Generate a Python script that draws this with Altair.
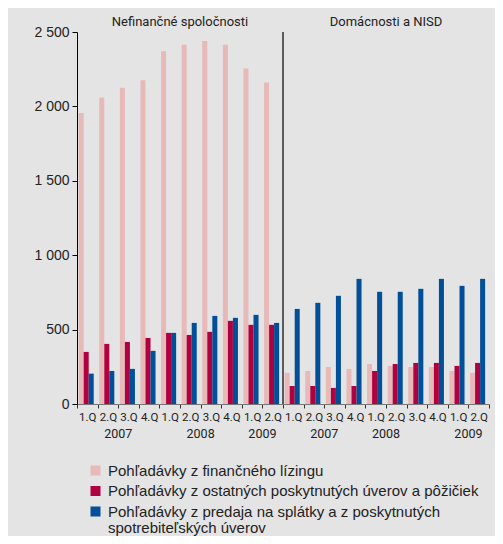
import altair as alt
import pandas as pd

panel_names = ["Nefinančné spoločnosti", "Domácnosti a NISD"]
years = ["2007", "2007", "2007", "2007", "2008", "2008", "2008", "2008", "2009", "2009"]
quarters = ["1", "2", "3", "4", "1", "2", "3", "4", "1", "2"]
series = [
    "Pohľadávky z finančného lízingu",
    "Pohľadávky z ostatných poskytnutých úverov a pôžičiek",
    "Pohľadávky z predaja na splátky a z poskytnutých spotrebiteľských úverov",
]
colors = ["#e8b9b9", "#b0003f", "#004f98"]

nef_leasing = [1955, 2060, 2125, 2175, 2370, 2415, 2440, 2415, 2255, 2160]
nef_loans = [350, 404, 417, 444, 478, 464, 485, 559, 532, 532]
nef_instal = [204, 222, 236, 357, 478, 545, 592, 579, 599, 545]
dom_leasing = [209, 222, 249, 236, 269, 256, 249, 249, 222, 209]
dom_loans = [121, 121, 108, 121, 222, 269, 276, 276, 256, 276]
dom_instal = [639, 680, 727, 841, 754, 754, 774, 841, 794, 841]

panel_values = [
    [nef_leasing, nef_loans, nef_instal],
    [dom_leasing, dom_loans, dom_instal],
]

group_order = []
rows = []
for p in range(2):
    for i in range(10):
        g = f"{p}|{years[i]}|{quarters[i]}"
        group_order.append(g)
        for s_idx, s in enumerate(series):
            rows.append({"g": g, "s": s, "v": panel_values[p][s_idx][i]})
df = pd.DataFrame(rows)

# panel title anchors (start of the 6th group of each panel = panel centre)
titles = pd.DataFrame({"g": ["0|2008|2", "1|2008|2"], "t": panel_names})
# year labels anchors
year_labels = pd.DataFrame({
    "g": ["0|2007|3", "0|2008|3", "0|2009|2", "1|2007|3", "1|2008|2", "1|2009|2"],
    "t": ["2007", "2008", "2009", "2007", "2008", "2009"],
})
divider = pd.DataFrame({"g": ["1|2007|1"]})

W, H = 412, 372
narrow = "'Liberation Sans Narrow', 'Arial Narrow', Roboto, sans-serif"
regular = "'Liberation Sans', Arial, sans-serif"

x_axis = alt.Axis(
    title=None,
    labelExpr="datum.value ? split(datum.value, '|')[2] + '.Q' : ''",
    labelAngle=0,
    labelFont=narrow,
    labelFontSize=11.5,
    labelColor="#222222",
    labelPadding=3,
    tickBand="extent",
    tickSize=4,
    tickColor="#333333",
    domainColor="#777777",
    grid=False,
)
x_scale = alt.Scale(domain=group_order, paddingInner=0, paddingOuter=0)


def X(band=0.5):
    return alt.X("g:N", sort=group_order, scale=x_scale, axis=x_axis, bandPosition=band)


legend_expr = (
    "datum.label == '" + series[2] + "' ? "
    "['Pohľadávky z predaja na splátky a z poskytnutých', 'spotrebiteľských úverov'] : datum.label"
)

bars = alt.Chart(df).mark_bar().encode(
    x=X(),
    xOffset=alt.XOffset(
        "s:N", sort=series,
        scale=alt.Scale(domain=series, paddingInner=0, paddingOuter=0.55, align=0.3),
    ),
    y=alt.Y(
        "v:Q",
        scale=alt.Scale(domain=[0, 2500], nice=False),
        axis=alt.Axis(
            title=None,
            values=[0, 500, 1000, 1500, 2000, 2500],
            labelExpr="replace(format(datum.value, ','), ',', ' ')",
            labelFont=regular,
            labelFontSize=14,
            labelColor="#222222",
            labelPadding=3,
            tickSize=5,
            tickColor="#000000",
            domainColor="#000000",
            grid=False,
        ),
    ),
    color=alt.Color(
        "s:N",
        sort=series,
        scale=alt.Scale(domain=series, range=colors),
        legend=alt.Legend(
            orient="none",
            legendX=11,
            legendY=431,
            title=None,
            symbolType="square",
            symbolSize=100,
            symbolStrokeWidth=0,
            labelFont=regular,
            labelFontSize=15,
            labelColor="#222222",
            labelLimit=500,
            labelOffset=5,
            rowPadding=4.5,
            labelExpr=legend_expr,
        ),
    ),
)

rule = alt.Chart(divider).mark_rule(color="#000000", strokeWidth=1.2).encode(
    x=X(0),
    y=alt.value(0),
    y2=alt.value(H),
)

title_text = alt.Chart(titles).mark_text(
    font=narrow, fontSize=13, color="#222222", baseline="middle", align="center"
).encode(x=X(0), y=alt.value(-10.5), text="t:N")

year_text = alt.Chart(year_labels).mark_text(
    font=narrow, fontSize=12.5, color="#222222", baseline="middle", align="center"
).encode(x=X(0), y=alt.value(402), text="t:N")

chart = alt.layer(bars, rule, title_text, year_text).properties(
    width=W,
    height=H,
    autosize=alt.AutoSizeParams(type="none"),
    padding={"left": 69, "top": 24, "right": 6, "bottom": 132},
    background="#e4e4e4",
).configure(
    view=alt.ViewConfig(stroke=None),
    style={"guide-label": {"lineHeight": 16}},
)

chart.save("out.html", embed_options={"renderer": "svg", "actions": False})
